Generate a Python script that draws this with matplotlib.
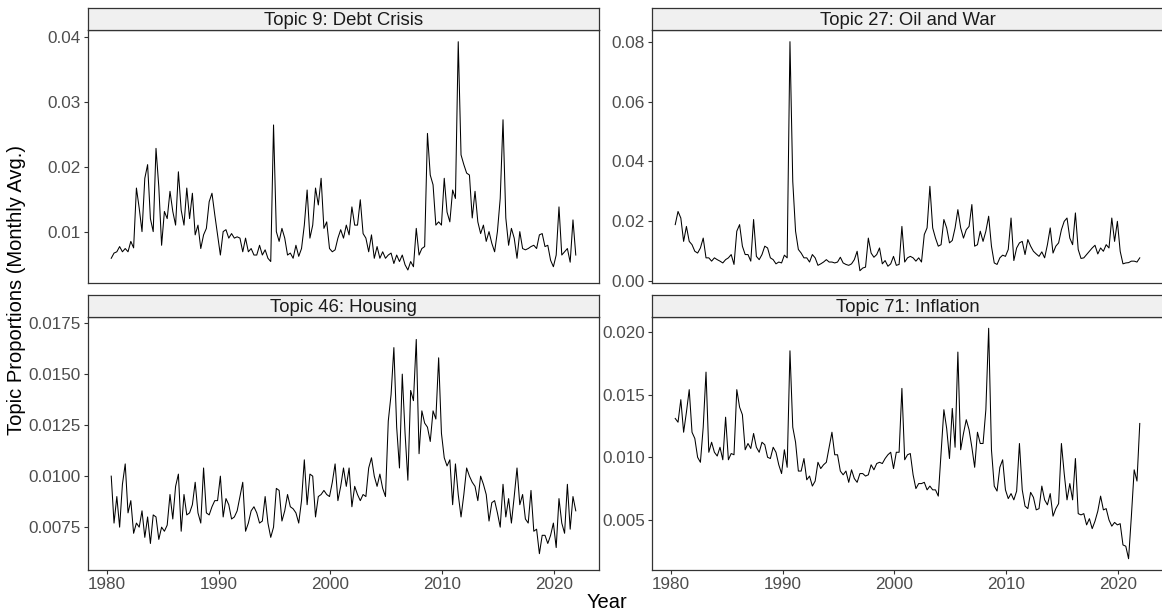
import numpy as np
import pandas as pd
import matplotlib
matplotlib.use("Agg")
import matplotlib.pyplot as plt
from matplotlib.ticker import MultipleLocator, FormatStrFormatter

plt.rcParams['font.family'] = ['Liberation Sans', 'DejaVu Sans']

# quarterly topic proportions, Jun 1980 - Dec 2021
dates = pd.date_range("1980-06-01", periods=167, freq="3MS")

topic9 = [
    0.0059, 0.0067, 0.0069, 0.0077, 0.0069, 0.0074, 0.0069, 0.0085, 0.0075,
    0.0167, 0.0136, 0.0100, 0.0182, 0.0203, 0.0120, 0.0100, 0.0228, 0.0169, 0.0079, 0.0131,
    0.0120, 0.0162, 0.0131, 0.0110, 0.0192, 0.0133, 0.0110, 0.0167, 0.0120, 0.0159,
    0.0095, 0.0110, 0.0074, 0.0095, 0.0105, 0.0146, 0.0159, 0.0126, 0.0095, 0.0064,
    0.0100, 0.0103, 0.0090, 0.0097, 0.0090,
    0.0092, 0.0090, 0.0069, 0.0090, 0.0069, 0.0074, 0.0064, 0.0064, 0.0079, 0.0064,
    0.0072, 0.0059, 0.0054, 0.0264, 0.0100, 0.0085, 0.0105, 0.0090, 0.0064, 0.0067,
    0.0059, 0.0079, 0.0062, 0.0074, 0.0110, 0.0164, 0.0090, 0.0110, 0.0167, 0.0141,
    0.0182, 0.0105, 0.0115, 0.0074, 0.0069, 0.0072, 0.0090, 0.0103, 0.0090, 0.0110,
    0.0095, 0.0138, 0.0110, 0.0110, 0.0149, 0.0097, 0.0090, 0.0069, 0.0095, 0.0059,
    0.0077, 0.0059, 0.0069, 0.0059, 0.0064, 0.0067, 0.0051, 0.0064, 0.0054, 0.0064,
    0.0049, 0.0041, 0.0054, 0.0046, 0.0105,
    0.0064, 0.0074, 0.0077, 0.0251, 0.0187, 0.0172, 0.0110, 0.0115, 0.0110, 0.0182,
    0.0130, 0.0115, 0.0164, 0.0151, 0.0392, 0.0218, 0.0203, 0.0190, 0.0187, 0.0121,
    0.0162, 0.0115, 0.0097, 0.0110, 0.0085, 0.0100, 0.0082, 0.0069, 0.0100, 0.0151,
    0.0272, 0.0121, 0.0079, 0.0105, 0.0090, 0.0059, 0.0100, 0.0074, 0.0072, 0.0074,
    0.0077, 0.0079, 0.0074, 0.0095, 0.0097, 0.0077, 0.0079, 0.0056, 0.0046, 0.0064,
    0.0138, 0.0064, 0.0069, 0.0074, 0.0053, 0.0118, 0.0064,
]

topic27 = [
    0.0189, 0.0233, 0.0211, 0.0133, 0.0183, 0.0133, 0.0122, 0.0100, 0.0094, 0.0111,
    0.0144, 0.0078, 0.0078, 0.0067, 0.0078, 0.0072, 0.0067, 0.0061, 0.0072, 0.0078,
    0.0089, 0.0056, 0.0167, 0.0189, 0.0117, 0.0089, 0.0089, 0.0067, 0.0206, 0.0083,
    0.0072, 0.0089, 0.0117, 0.0111, 0.0078, 0.0072, 0.0058, 0.0064, 0.0061, 0.0087,
    0.0078, 0.0800, 0.0333, 0.0167, 0.0106, 0.0094, 0.0078, 0.0078, 0.0064, 0.0089,
    0.0078, 0.0053, 0.0058, 0.0064, 0.0072, 0.0064, 0.0064, 0.0061, 0.0064, 0.0080,
    0.0061, 0.0056, 0.0053, 0.0058, 0.0072, 0.0100, 0.0035, 0.0044, 0.0047, 0.0144,
    0.0094, 0.0080, 0.0089, 0.0111, 0.0058, 0.0069, 0.0050, 0.0058, 0.0083, 0.0053,
    0.0056, 0.0183, 0.0064, 0.0078, 0.0083, 0.0078, 0.0067, 0.0078, 0.0064, 0.0156,
    0.0178, 0.0317, 0.0178, 0.0144, 0.0117, 0.0122, 0.0206, 0.0178, 0.0128, 0.0136,
    0.0178, 0.0239, 0.0178, 0.0144, 0.0172, 0.0183, 0.0256, 0.0117, 0.0122, 0.0167,
    0.0133, 0.0167, 0.0217, 0.0117, 0.0061, 0.0056, 0.0078, 0.0087, 0.0083, 0.0106,
    0.0211, 0.0069, 0.0111, 0.0128, 0.0133, 0.0089, 0.0139, 0.0117, 0.0100, 0.0091,
    0.0083, 0.0098, 0.0078, 0.0122, 0.0178, 0.0094, 0.0117, 0.0128, 0.0172, 0.0200,
    0.0211, 0.0144, 0.0122, 0.0228, 0.0106, 0.0076, 0.0078, 0.0089, 0.0100, 0.0111,
    0.0120, 0.0091, 0.0111, 0.0100, 0.0122, 0.0111, 0.0211, 0.0133, 0.0200, 0.0100,
    0.0058, 0.0061, 0.0062, 0.0067, 0.0067, 0.0064, 0.0078,
]

topic46 = [
    0.0100, 0.0077, 0.0090, 0.0075, 0.0096, 0.0106, 0.0082, 0.0088, 0.0072, 0.0077,
    0.0075, 0.0083, 0.0070, 0.0080, 0.0067, 0.0081, 0.0080, 0.0069, 0.0075, 0.0073,
    0.0076, 0.0091, 0.0079, 0.0095, 0.0101, 0.0073, 0.0091, 0.0081, 0.0082, 0.0086,
    0.0097, 0.0082, 0.0077, 0.0104, 0.0082, 0.0081, 0.0085, 0.0088, 0.0088, 0.0100,
    0.0080, 0.0089, 0.0086, 0.0079, 0.0080, 0.0083, 0.0090, 0.0097, 0.0073, 0.0077,
    0.0083, 0.0085, 0.0082, 0.0077, 0.0078, 0.0090, 0.0077, 0.0070, 0.0075, 0.0094,
    0.0093, 0.0078, 0.0083, 0.0091, 0.0085, 0.0084, 0.0082, 0.0077, 0.0088, 0.0108,
    0.0086, 0.0101, 0.0100, 0.0080, 0.0090, 0.0091, 0.0093, 0.0091, 0.0090, 0.0097,
    0.0106, 0.0088, 0.0095, 0.0104, 0.0095, 0.0104, 0.0085, 0.0095, 0.0091, 0.0088,
    0.0091, 0.0090, 0.0104, 0.0109, 0.0100, 0.0095, 0.0101, 0.0094, 0.0090, 0.0127,
    0.0140, 0.0163, 0.0124, 0.0104, 0.0150, 0.0121, 0.0098, 0.0142, 0.0137, 0.0167,
    0.0111, 0.0132, 0.0126, 0.0124, 0.0117, 0.0132, 0.0128, 0.0158, 0.0121, 0.0109,
    0.0105, 0.0108, 0.0086, 0.0106, 0.0091, 0.0080, 0.0091, 0.0104, 0.0100, 0.0097,
    0.0095, 0.0088, 0.0100, 0.0096, 0.0091, 0.0078, 0.0087, 0.0088, 0.0082, 0.0075,
    0.0096, 0.0080, 0.0089, 0.0077, 0.0090, 0.0104, 0.0086, 0.0091, 0.0079, 0.0077,
    0.0093, 0.0073, 0.0074, 0.0062, 0.0071, 0.0071, 0.0067, 0.0071, 0.0077, 0.0065,
    0.0089, 0.0077, 0.0072, 0.0096, 0.0074, 0.0090, 0.0083,
]

topic71 = [
    0.0131, 0.0128, 0.0146, 0.0120, 0.0136, 0.0154, 0.0120, 0.0115, 0.0100, 0.0096,
    0.0124, 0.0168, 0.0104, 0.0112, 0.0104, 0.0101, 0.0108, 0.0098, 0.0132, 0.0098,
    0.0103, 0.0102, 0.0154, 0.0140, 0.0134, 0.0106, 0.0111, 0.0107, 0.0119, 0.0108,
    0.0104, 0.0112, 0.0110, 0.0100, 0.0099, 0.0108, 0.0104, 0.0094, 0.0087, 0.0106,
    0.0092, 0.0185, 0.0124, 0.0112, 0.0089, 0.0089, 0.0099, 0.0082, 0.0085, 0.0077,
    0.0081, 0.0096, 0.0091, 0.0094, 0.0096, 0.0108, 0.0120, 0.0102, 0.0102, 0.0089,
    0.0086, 0.0089, 0.0080, 0.0090, 0.0083, 0.0080, 0.0087, 0.0087, 0.0085, 0.0086,
    0.0094, 0.0090, 0.0095, 0.0096, 0.0095, 0.0099, 0.0102, 0.0104, 0.0091, 0.0104,
    0.0104, 0.0155, 0.0098, 0.0102, 0.0103, 0.0086, 0.0075, 0.0079, 0.0079, 0.0080,
    0.0074, 0.0077, 0.0074, 0.0074, 0.0069, 0.0103, 0.0138, 0.0123, 0.0099, 0.0139,
    0.0108, 0.0184, 0.0106, 0.0119, 0.0130, 0.0122, 0.0108, 0.0092, 0.0120, 0.0111,
    0.0111, 0.0138, 0.0203, 0.0106, 0.0077, 0.0073, 0.0092, 0.0098, 0.0074, 0.0067,
    0.0071, 0.0066, 0.0073, 0.0111, 0.0074, 0.0061, 0.0059, 0.0072, 0.0068, 0.0058,
    0.0059, 0.0077, 0.0066, 0.0062, 0.0071, 0.0053, 0.0059, 0.0063, 0.0111, 0.0087,
    0.0066, 0.0079, 0.0066, 0.0099, 0.0055, 0.0054, 0.0055, 0.0046, 0.0051, 0.0043,
    0.0049, 0.0057, 0.0069, 0.0058, 0.0059, 0.0050, 0.0045, 0.0048, 0.0046, 0.0047,
    0.0030, 0.0029, 0.0019, 0.0053, 0.0090, 0.0081, 0.0127,
]

titles = ["Topic 9: Debt Crisis", "Topic 27: Oil and War",
          "Topic 46: Housing", "Topic 71: Inflation"]
series = [topic9, topic27, topic46, topic71]
y_steps = [0.01, 0.02, 0.0025, 0.005]
y_fmts = ["%.2f", "%.2f", "%.4f", "%.3f"]
y_lims = [(0.0021, 0.0410), (-0.0006, 0.0839), (0.0054, 0.0178), (0.0010, 0.0212)]

years = dates.year + (dates.month - 1) / 12

W, H = 1162, 614
fig = plt.figure(figsize=(W / 100, H / 100), dpi=100)

# panel boxes in pixels: left, top, width, height
panel_w, panel_h, strip_h = 511, 253, 22
lefts = [88, 652]
tops = [30, 317]

dark = "#333333"
for i, (title, vals) in enumerate(zip(titles, series)):
    row, col = divmod(i, 2)
    x0, y0 = lefts[col], tops[row]
    ax = fig.add_axes([x0 / W, (H - y0 - panel_h) / H, panel_w / W, panel_h / H])
    ax.plot(years, vals, color="black", lw=0.75)
    ax.set_ylim(*y_lims[i])
    ax.set_xticks([1980, 1990, 2000, 2010, 2020])
    ax.yaxis.set_major_locator(MultipleLocator(y_steps[i]))
    ax.yaxis.set_major_formatter(FormatStrFormatter(y_fmts[i]))
    ax.tick_params(colors=dark, labelcolor="#4D4D4D", labelsize=12.3,
                   length=3, width=0.8, pad=2)
    for s in ax.spines.values():
        s.set_color(dark)
        s.set_linewidth(0.9)
    if row == 0:
        ax.tick_params(axis="x", bottom=False, labelbottom=False)

    # facet strip
    sax = fig.add_axes([x0 / W, (H - y0) / H, panel_w / W, strip_h / H])
    sax.set_facecolor("#F0F0F0")
    sax.set_xticks([])
    sax.set_yticks([])
    for s in sax.spines.values():
        s.set_color(dark)
        s.set_linewidth(0.9)
    sax.text(0.5, 0.45, title, ha="center", va="center", fontsize=13.3,
             color="#1A1A1A", transform=sax.transAxes)

fig.text(607 / W, 1 - 602 / H, "Year", ha="center", va="center", fontsize=14.5)
fig.text(17 / W, 1 - 290 / H, "Topic Proportions (Monthly Avg.)", ha="center",
         va="center", rotation=90, fontsize=14.5)

fig.savefig("out.png", dpi=100)
